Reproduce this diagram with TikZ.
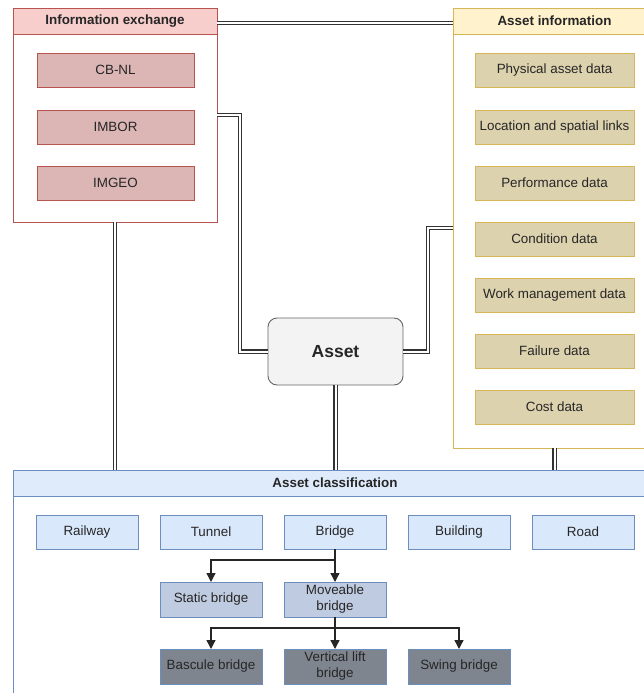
\documentclass[tikz,border=0pt]{standalone}
\usepackage{fontspec}
\setmainfont{Liberation Sans}
\usetikzlibrary{arrows.meta}

\definecolor{redline}{HTML}{B85450}
\definecolor{redhead}{HTML}{F8CECC}
\definecolor{redbox}{HTML}{DCB5B5}
\definecolor{yelline}{HTML}{D6B656}
\definecolor{yelhead}{HTML}{FFF2CC}
\definecolor{yelbox}{HTML}{DDD2AE}
\definecolor{blueline}{HTML}{6C8EBF}
\definecolor{bluehead}{HTML}{DFEBFB}
\definecolor{bluebox}{HTML}{DAE8FC}
\definecolor{steelbox}{HTML}{BFCBE0}
\definecolor{darkbox}{HTML}{7F858F}
\definecolor{assetfill}{HTML}{F3F3F3}
\definecolor{txt}{HTML}{262626}

\tikzset{
  base/.style={rectangle, inner sep=0pt, outer sep=0pt, text=txt, line width=0.9pt,
    font=\fontsize{13.4}{16}\selectfont, align=center},
  container/.style={base, fill=white},
  header/.style={base, font=\fontsize{13.4}{16}\selectfont\bfseries},
  redbx/.style={base, draw=redline, fill=redbox, minimum width=157pt, minimum height=34pt},
  yelbx/.style={base, draw=yelline, fill=yelbox, minimum width=159pt, minimum height=34pt},
  bluebx/.style={base, draw=blueline, fill=bluebox, minimum width=102pt, minimum height=34pt},
  steelbx/.style={base, draw=blueline, fill=steelbox, minimum width=102pt, minimum height=35pt},
  darkbx/.style={base, draw=blueline, fill=darkbox, minimum width=102pt, minimum height=35pt},
  link/.style={draw=black!80, line width=1.2pt, double=white, double distance=2pt},
  tree/.style={draw=black!85, line width=1.3pt, -{Triangle[length=9pt,width=9pt]}},
}

\begin{document}
\begin{tikzpicture}[x=1pt,y=-1pt]
\useasboundingbox (0,0) rectangle (644,693);

% containers
\node[container, draw=redline, minimum width=204pt, minimum height=214pt] (ie) at (115,115) {};
\node[header, draw=redline, fill=redhead, minimum width=204pt, minimum height=26pt] (ieh) at (115,21) {Information exchange};

\node[container, draw=yelline, minimum width=203pt, minimum height=440pt] (ai) at (554.5,228) {};
\node[header, draw=yelline, fill=yelhead, minimum width=203pt, minimum height=26pt] (aih) at (554.5,21) {};
\node[header] at (554.5,21) {Asset information};

\node[container, draw=blueline, minimum width=637pt, minimum height=240pt] (ac) at (331.5,590) {};
\node[header, draw=blueline, fill=bluehead, minimum width=637pt, minimum height=26pt] (ach) at (331.5,483) {};
\node[header] at (335,483) {Asset classification};

% information exchange items
\node[redbx] (cbnl)  at (115.5,70)  {CB-NL};
\node[redbx] (imbor) at (115.5,127) {IMBOR};
\node[redbx] (imgeo) at (115.5,183) {IMGEO};

% asset information items
\node[yelbx] (phys) at (554.5,70)  {Physical asset data};
\node[yelbx] (loc)  at (554.5,127) {Location and spatial links};
\node[yelbx] (perf) at (554.5,183) {Performance data};
\node[yelbx] (cond) at (554.5,239) {Condition data};
\node[yelbx] (work) at (554.5,295) {Work management data};
\node[yelbx] (fail) at (554.5,351) {Failure data};
\node[yelbx] (cost) at (554.5,407) {Cost data};

% central asset
\node[base, draw=black!60, fill=assetfill, rounded corners=9pt, minimum width=135pt,
      minimum height=67pt, font=\fontsize{17.5}{20}\selectfont\bfseries] (asset) at (335.5,351.5) {Asset};

% asset classification items
\node[bluebx] (rail)   at (87,532)  {Railway};
\node[bluebx] (tunnel) at (211,532) {Tunnel};
\node[bluebx] (bridge) at (335,532) {Bridge};
\node[bluebx] (build)  at (459,532) {Building};
\node[bluebx] (road)   at (583,532) {Road};

\node[steelbx] (static) at (211,599.5) {Static bridge};
\node[steelbx] (move)   at (335,599.5) {Moveable\\bridge};

\node[darkbx] (bascule) at (211,666.5) {Bascule bridge};
\node[darkbx] (vlift)   at (335,666.5) {Vertical lift\\bridge};
\node[darkbx] (swing)   at (459,666.5) {Swing bridge};

% links between the blocks
\draw[link] (ieh.east) ++(0,2) -- (aih.west |- 0,23);
\draw[link] (ie.east) -- ++(23,0) |- (asset.west);
\draw[link] (asset.east) -- ++(25,0) |- (ai.west);
\draw[link] (asset.south) -- (asset.south |- ac.north);
\draw[link] (ie.south) -- (ie.south |- ac.north);
\draw[link] (ai.south) -- (ai.south |- ac.north);

% bridge hierarchy
\draw[tree] (bridge.south) -- ++(0,11) -| (static.north);
\draw[tree] (bridge.south) -- (move.north);
\draw[tree] (move.south) -- ++(0,11) -| (bascule.north);
\draw[tree] (move.south) -- (vlift.north);
\draw[tree] (move.south) -- ++(0,11) -| (swing.north);
\end{tikzpicture}
\end{document}
